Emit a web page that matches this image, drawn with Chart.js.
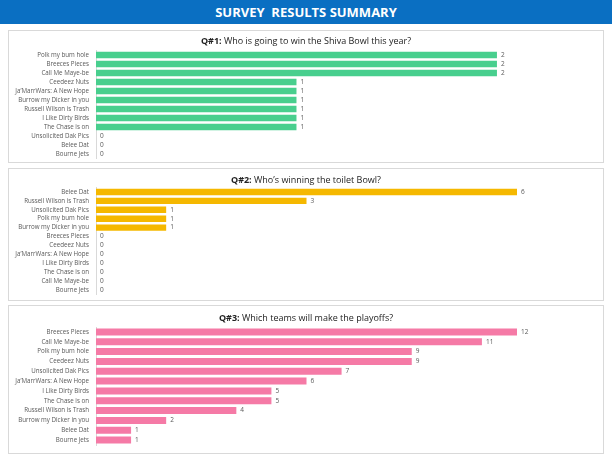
<!DOCTYPE html>
<html>
<head>
<meta charset="utf-8">
<script src="https://cdn.jsdelivr.net/npm/chart.js@4/dist/chart.umd.min.js"></script>
<style>
  body { margin: 0; width: 612px; height: 459px; background: #fff; position: relative; overflow: hidden; font-family: "Open Sans", sans-serif; }
  .header { position: absolute; left: 0; top: 0; width: 612px; height: 24px; background: #0a6fc2; color: #fff; font-weight: bold; font-size: 13px; text-align: center; line-height: 24px; white-space: pre; }
  .panel { position: absolute; left: 8px; width: 594px; border: 1px solid #d9d9d9; background: #fff; }
  .qtitle { position: absolute; left: 0; width: 612px; text-align: center; font-size: 9px; color: #222; }
  canvas { position: absolute; }
</style>
</head>
<body>
<div class="header">SURVEY  RESULTS SUMMARY</div>

<div class="panel" style="top:30px;height:131px"></div>
<div class="panel" style="top:168px;height:131px"></div>
<div class="panel" style="top:305px;height:147px"></div>

<canvas id="c1" width="593" height="140" style="left:9px;top:31px"></canvas>
<canvas id="c2" width="593" height="138" style="left:9px;top:169px"></canvas>
<canvas id="c3" width="593" height="151" style="left:9px;top:306px"></canvas>

<div class="qtitle" style="top:34px"><b>Q#1:</b> Who is going to win the Shiva Bowl this year?</div>
<div class="qtitle" style="top:173px"><b>Q#2:</b> Who’s winning the toilet Bowl?</div>
<div class="qtitle" style="top:311px"><b>Q#3:</b> Which teams will make the playoffs?</div>

<script>
const q1Labels = ['Polk my bum hole', 'Breeces Pieces', 'Call Me Maye-be', 'Ceedeez Nuts', 'Ja’MarrWars: A New Hope',
  'Burrow my Dicker in you', 'Russell Wilson is Trash', 'I Like Dirty Birds', 'The Chase is on',
  'Unsolicited Dak Pics', 'Belee Dat', 'Bourne Jets'];
const q1Values = [2, 2, 2, 1, 1, 1, 1, 1, 1, 0, 0, 0];

const q2Labels = ['Belee Dat', 'Russell Wilson is Trash', 'Unsolicited Dak Pics', 'Polk my bum hole', 'Burrow my Dicker in you',
  'Breeces Pieces', 'Ceedeez Nuts', 'Ja’MarrWars: A New Hope', 'I Like Dirty Birds', 'The Chase is on',
  'Call Me Maye-be', 'Bourne Jets'];
const q2Values = [6, 3, 1, 1, 1, 0, 0, 0, 0, 0, 0, 0];

const q3Labels = ['Breeces Pieces', 'Call Me Maye-be', 'Polk my bum hole', 'Ceedeez Nuts', 'Unsolicited Dak Pics',
  'Ja’MarrWars: A New Hope', 'I Like Dirty Birds', 'The Chase is on', 'Russell Wilson is Trash',
  'Burrow my Dicker in you', 'Belee Dat', 'Bourne Jets'];
const q3Values = [12, 11, 9, 9, 7, 6, 5, 5, 4, 2, 1, 1];

// draws the value next to the end of each bar
const valueLabels = {
  id: 'valueLabels',
  afterDatasetsDraw(chart) {
    const ctx = chart.ctx;
    ctx.save();
    ctx.font = '6.5px "Open Sans", sans-serif';
    ctx.fillStyle = '#595959';
    ctx.textBaseline = 'middle';
    chart.getDatasetMeta(0).data.forEach((bar, i) => {
      ctx.fillText(chart.data.datasets[0].data[i], bar.x + 4, bar.y);
    });
    ctx.restore();
  }
};

function makeChart(id, labels, values, color, xMax, pad) {
  new Chart(document.getElementById(id), {
    type: 'bar',
    data: {
      labels: labels,
      datasets: [{
        data: values,
        backgroundColor: color,
        barPercentage: 0.72,
        categoryPercentage: 1
      }]
    },
    options: {
      indexAxis: 'y',
      responsive: false,
      animation: false,
      layout: { padding: pad },
      plugins: { legend: { display: false }, tooltip: { enabled: false } },
      scales: {
        x: { display: false, min: 0, max: xMax },
        y: {
          afterFit: (s) => { s.width = 87; },
          grid: { drawOnChartArea: false, drawTicks: false },
          border: { color: '#d9d9d9' },
          ticks: { autoSkip: false, padding: 7, color: '#595959', font: { size: 6.2, family: 'Open Sans' } }
        }
      }
    },
    plugins: [valueLabels]
  });
}

makeChart('c1', q1Labels, q1Values, '#48cf8e', 2.1, { top: 19.5, bottom: 12.5, right: 85, left: 0 });
makeChart('c2', q2Labels, q2Values, '#f5b800', 6, { top: 18.5, bottom: 12.5, right: 85, left: 0 });
makeChart('c3', q3Labels, q3Values, '#f57aa6', 12, { top: 21, bottom: 12, right: 85, left: 0 });
</script>
</body>
</html>
